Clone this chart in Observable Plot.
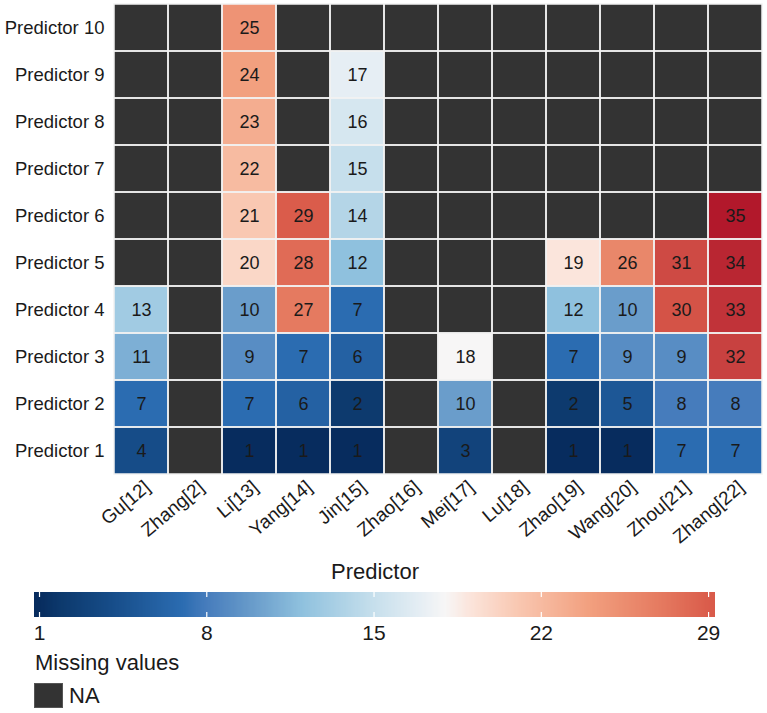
<!DOCTYPE html>
<html>
<head>
<meta charset="utf-8">
<script src="https://cdn.jsdelivr.net/npm/d3@7"></script>
<script src="https://cdn.jsdelivr.net/npm/@observablehq/plot@0.6"></script>
<style>
  body { margin: 0; background: white; font-family: "Liberation Sans", Arial, sans-serif; }
  #wrap { position: relative; width: 767px; height: 713px; overflow: hidden; }
  #heat { position: absolute; left: 0; top: 0; }
  #title { position: absolute; left: 0; width: 750px; top: 560px; line-height: 24px; font-size: 22px; text-align: center; color: #1a1a1a; }
  #bar { position: absolute; left: 0; top: 587px; }
  #missing { position: absolute; left: 35px; top: 651px; line-height: 24px; font-size: 22px; color: #1a1a1a; }
  #na { position: absolute; left: 34px; top: 683px; width: 29px; height: 25px; background: #333333; box-sizing: border-box; border: 1px solid #555; }
  #naText { position: absolute; left: 69px; top: 683px; line-height: 26px; font-size: 22px; color: #1a1a1a; }
</style>
</head>
<body>
<div id="wrap">
  <div id="heat"></div>
  <div id="title">Predictor</div>
  <div id="bar"></div>
  <div id="missing">Missing values</div>
  <div id="na"></div>
  <div id="naText">NA</div>
</div>
<script>
// Studies (x axis) and predictors (y axis)
const studies = ["Gu[12]", "Zhang[2]", "Li[13]", "Yang[14]", "Jin[15]", "Zhao[16]", "Mei[17]", "Lu[18]", "Zhao[19]", "Wang[20]", "Zhou[21]", "Zhang[22]"];
const predictors = ["Predictor 1", "Predictor 2", "Predictor 3", "Predictor 4", "Predictor 5", "Predictor 6", "Predictor 7", "Predictor 8", "Predictor 9", "Predictor 10"];

// Values per study, Predictor 1 .. Predictor 10 (null = missing)
const gu12    = [4, 7, 11, 13, null, null, null, null, null, null];
const zhang2  = [null, null, null, null, null, null, null, null, null, null];
const li13    = [1, 7, 9, 10, 20, 21, 22, 23, 24, 25];
const yang14  = [1, 6, 7, 27, 28, 29, null, null, null, null];
const jin15   = [1, 2, 6, 7, 12, 14, 15, 16, 17, null];
const zhao16  = [null, null, null, null, null, null, null, null, null, null];
const mei17   = [3, 10, 18, null, null, null, null, null, null, null];
const lu18    = [null, null, null, null, null, null, null, null, null, null];
const zhao19  = [1, 2, 7, 12, 19, null, null, null, null, null];
const wang20  = [1, 5, 9, 10, 26, null, null, null, null, null];
const zhou21  = [7, 8, 9, 30, 31, null, null, null, null, null];
const zhang22 = [7, 8, 32, 33, 34, 35, null, null, null, null];

const columns = [gu12, zhang2, li13, yang14, jin15, zhao16, mei17, lu18, zhao19, wang20, zhou21, zhang22];

// Legend
const legendTicks = [1, 8, 15, 22, 29];
const legendRange = [0.79, 29.29];

const cells = studies.flatMap((s, i) => columns[i].map((v, j) => ({study: s, predictor: predictors[j], value: v})));
const valued = cells.filter(d => d.value != null);

const colorOpts = {
  type: "linear",
  clamp: true,
  domain: [1, 2, 4, 7, 8, 10, 12, 15, 17, 18, 19, 21, 24, 27, 29, 32, 35],
  range: ["#072c5e", "#0d3a6e", "#164c88", "#2b6cb1", "#467cbc", "#6a9dcb", "#8fc1de", "#c6dfec", "#e6eef4", "#f7f6f6", "#fbe5dc", "#f9c8b2", "#f2a07f", "#e57a60", "#da5c4b", "#c84140", "#b2182b"]
};

const font = "'Liberation Sans', Arial, sans-serif";

const heat = Plot.plot({
  width: 767,
  height: 545,
  marginLeft: 113,
  marginRight: 4,
  marginTop: 3,
  marginBottom: 70,
  style: {fontFamily: font, background: "white", overflow: "visible"},
  x: {domain: studies, padding: 0, label: null},
  y: {domain: [...predictors].reverse(), padding: 0, label: null},
  color: colorOpts,
  marks: [
    Plot.cell(cells, {x: "study", y: "predictor", fill: "#333333"}),
    Plot.cell(valued, {x: "study", y: "predictor", fill: "value"}),
    Plot.cell(cells, {x: "study", y: "predictor", fill: "none", stroke: "#f2f2f2", strokeWidth: 1.5}),
    Plot.text(valued, {x: "study", y: "predictor", text: d => String(d.value), fontSize: 18, fill: "#1a1a1a"}),
    Plot.axisY({tickSize: 0, tickPadding: 9, fontSize: 18.5, fill: "#1a1a1a", label: null}),
    Plot.axisX({tickSize: 0, tickPadding: 9, tickRotate: -40, dx: 6, fontSize: 19, fill: "#1a1a1a", label: null})
  ]
});
document.getElementById("heat").appendChild(heat);

const step = 0.05;
const steps = d3.range(legendRange[0], legendRange[1], step);

const bar = Plot.plot({
  width: 767,
  height: 60,
  marginLeft: 34,
  marginRight: 52,
  marginTop: 5,
  marginBottom: 30,
  style: {fontFamily: font, background: "transparent", overflow: "visible"},
  x: {domain: legendRange, label: null},
  y: {domain: [0, 1], axis: null},
  color: colorOpts,
  marks: [
    Plot.rect(steps, {x1: d => d, x2: d => Math.min(d + step * 2, legendRange[1]), y1: 0, y2: 1, fill: d => d + step / 2, shapeRendering: "crispEdges"}),
    Plot.ruleX(legendTicks, {x: d => d, y1: 0, y2: 0.2, stroke: "white", strokeWidth: 1.2}),
    Plot.ruleX(legendTicks, {x: d => d, y1: 0.8, y2: 1, stroke: "white", strokeWidth: 1.2}),
    Plot.axisX({ticks: legendTicks, tickSize: 0, tickPadding: 8, fontSize: 21, fill: "#1a1a1a", label: null, tickFormat: d => String(d)})
  ]
});
document.getElementById("bar").appendChild(bar);
</script>
</body>
</html>
